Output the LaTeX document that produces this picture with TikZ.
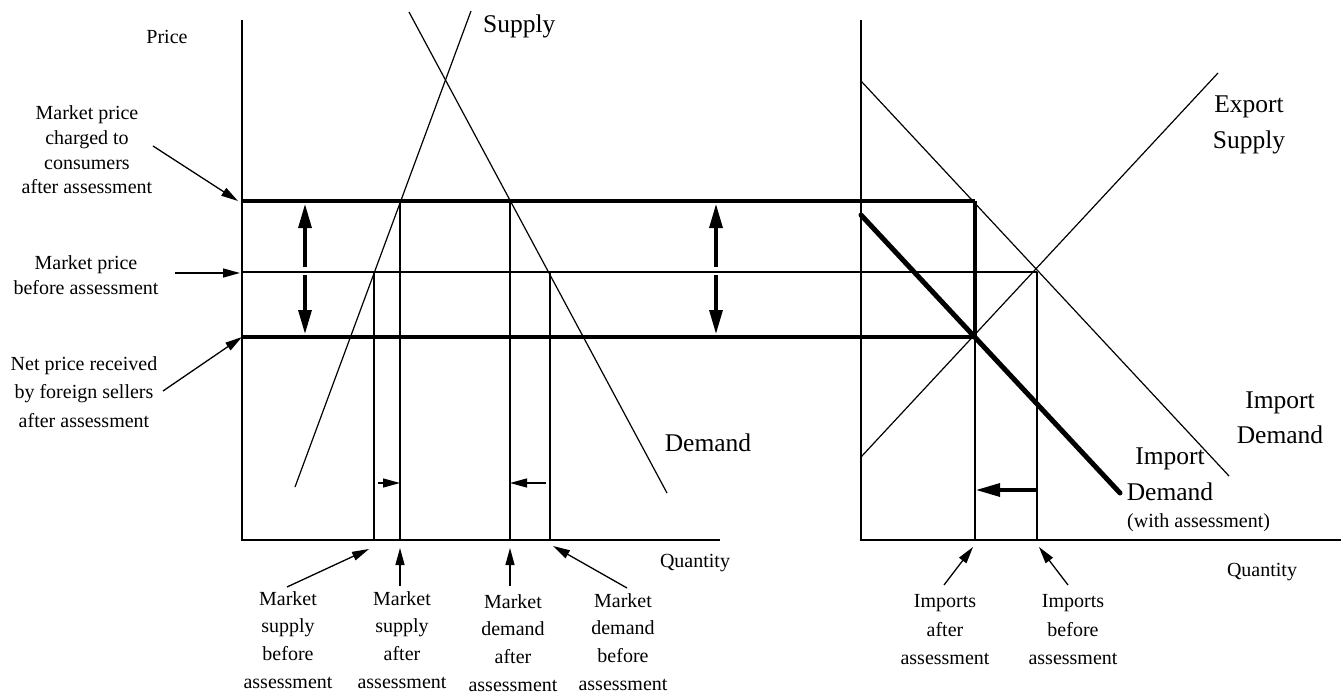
\documentclass[tikz,border=0pt]{standalone}
\usepackage{fontspec}
\setmainfont{Liberation Serif}
\usetikzlibrary{arrows.meta}
\begin{document}
\begin{tikzpicture}[x=1pt,y=-1pt,
  axisline/.style={line width=1.5pt},
  thinline/.style={line width=1.2pt},
  thickline/.style={line width=3.2pt},
  heavyline/.style={line width=5pt,line cap=round},
  pointer/.style={line width=1.3pt,-{Triangle[length=17pt,width=9pt]}},
  bigarrow/.style={line width=3.2pt,-{Triangle[length=24pt,width=13pt]}},
  txt/.style={font=\fontsize{20}{24.7}\selectfont,align=center,inner sep=0pt},
  txtwide/.style={font=\fontsize{20}{27.8}\selectfont,align=center,inner sep=0pt},
  bigtxt/.style={font=\fontsize{25.5}{35.5}\selectfont,align=center,inner sep=0pt},
]
\useasboundingbox (0,0) rectangle (1341,698);

% ---------- coordinates: left panel ----------
\coordinate (LY) at (242,20);
\coordinate (LO) at (242,540);
\coordinate (LX) at (720,540);
\coordinate (PT0) at (242,201); \coordinate (PT1) at (975,201);
\coordinate (PM0) at (242,272); \coordinate (PM1) at (1037,272);
\coordinate (PB0) at (242,337); \coordinate (PB1) at (975,337);
\coordinate (S0) at (295,487); \coordinate (S1) at (471,11);
\coordinate (D0) at (409,12);  \coordinate (D1) at (667,493);
\coordinate (V1t) at (374,272); \coordinate (V1b) at (374,540);
\coordinate (V2t) at (400,201); \coordinate (V2b) at (400,540);
\coordinate (V3t) at (510,201); \coordinate (V3b) at (510,540);
\coordinate (V4t) at (550,272); \coordinate (V4b) at (550,540);
\coordinate (a1s) at (378,483); \coordinate (a1e) at (400,483);
\coordinate (a2s) at (546,483); \coordinate (a2e) at (510,483);
\coordinate (dA1) at (305,267); \coordinate (dA2) at (305,204);
\coordinate (dA3) at (305,275); \coordinate (dA4) at (305,334);
\coordinate (dB1) at (716,267); \coordinate (dB2) at (716,204);
\coordinate (dB3) at (716,275); \coordinate (dB4) at (716,334);

% ---------- coordinates: right panel ----------
\coordinate (RY) at (861,20);
\coordinate (RO) at (861,540);
\coordinate (RX) at (1341,540);
\coordinate (ID0) at (861,81);  \coordinate (ID1) at (1229,476);
\coordinate (ES0) at (861,457); \coordinate (ES1) at (1218,73);
\coordinate (IA0) at (861,215); \coordinate (IA1) at (1120,493);
\coordinate (Q1b) at (975,540);
\coordinate (Q2b) at (1037,540);
\coordinate (ra0) at (1036,490); \coordinate (ra1) at (976,490);

% ---------- left panel drawing ----------
\draw[axisline] (LY) -- (LO) -- (LX);
\draw[thickline] (PT0) -- (PT1);
\draw[thinline] (PM0) -- (PM1);
\draw[thickline] (PB0) -- (PB1);
\draw[thinline] (S0) -- (S1);
\draw[thinline] (D0) -- (D1);
\draw[thinline] (V1t) -- (V1b);
\draw[thinline] (V2t) -- (V2b);
\draw[thinline] (V3t) -- (V3b);
\draw[thinline] (V4t) -- (V4b);
\draw[pointer] (a1s) -- (a1e);
\draw[pointer] (a2s) -- (a2e);
\draw[bigarrow] (dA1) -- (dA2);
\draw[bigarrow] (dA3) -- (dA4);
\draw[bigarrow] (dB1) -- (dB2);
\draw[bigarrow] (dB3) -- (dB4);

% ---------- right panel drawing ----------
\draw[axisline] (RY) -- (RO) -- (RX);
\draw[thinline] (ID0) -- (ID1);
\draw[thinline] (ES0) -- (ES1);
\draw[heavyline] (IA0) -- (IA1);
\draw[thickline] (PT1) -- (PB1);
\draw[thinline] (PB1) -- (Q1b);
\draw[thinline] (PM1) -- (Q2b);
\draw[bigarrow] (ra0) -- (ra1);

% ---------- labels ----------
\node[txt] (price) at (167,37) {Price};
\node[bigtxt,anchor=base west] (supplylbl) at (483,33) {Supply};
\node[bigtxt] (demandlbl) at (708,443) {Demand};
\node[txt] (qtyL) at (695,563) {Quantity};
\node[txt] (qtyR) at (1262,572) {Quantity};

\node[txt] (mpc) at (87,150) {Market price\\charged to\\consumers\\after assessment};
\node[txt] (mpb) at (86,275) {Market price\\before assessment};
\node[txt,font=\fontsize{20}{28.5}\selectfont] (npr) at (84,392) {Net price received\\by foreign sellers\\after assessment};

\coordinate (mpcA) at (153,146);
\coordinate (mpbA) at (175,273);
\coordinate (nprA) at (163,391);
\draw[pointer] (mpcA) -- (238,201);
\draw[pointer] (mpbA) -- (240,273);
\draw[pointer] (nprA) -- (PB0);

\node[txtwide] (msb) at (288,640) {Market\\supply\\before\\assessment};
\node[txtwide] (msa) at (402,640) {Market\\supply\\after\\assessment};
\node[txtwide] (mda) at (513,643) {Market\\demand\\after\\assessment};
\node[txtwide] (mdb) at (623,642) {Market\\demand\\before\\assessment};

\coordinate (msbA) at (287,587); \coordinate (msbB) at (369,549);
\coordinate (msaA) at (400,586); \coordinate (msaB) at (400,548);
\coordinate (mdaA) at (510,586); \coordinate (mdaB) at (510,548);
\coordinate (mdbA) at (627,588); \coordinate (mdbB) at (553,546);
\draw[pointer] (msbA) -- (msbB);
\draw[pointer] (msaA) -- (msaB);
\draw[pointer] (mdaA) -- (mdaB);
\draw[pointer] (mdbA) -- (mdbB);

\node[bigtxt] (eslbl) at (1249,125) {Export\\Supply};
\node[bigtxt] (idlbl) at (1280,418) {Import\\Demand};
\node[bigtxt,font=\fontsize{25.5}{36}\selectfont] (iawlbl) at (1170,474) {Import\\Demand};
\node[txt,anchor=west] (withlbl) at (1127,523) {(with assessment)};

\node[font=\fontsize{20}{28.5}\selectfont,align=center,inner sep=0pt] (impa) at (945,630) {Imports\\after\\assessment};
\node[font=\fontsize{20}{28.5}\selectfont,align=center,inner sep=0pt] (impb) at (1073,630) {Imports\\before\\assessment};
\coordinate (impaA) at (944,585); \coordinate (impaB) at (973,547);
\coordinate (impbA) at (1068,585); \coordinate (impbB) at (1039,547);
\draw[pointer] (impaA) -- (impaB);
\draw[pointer] (impbA) -- (impbB);
\end{tikzpicture}
\end{document}
